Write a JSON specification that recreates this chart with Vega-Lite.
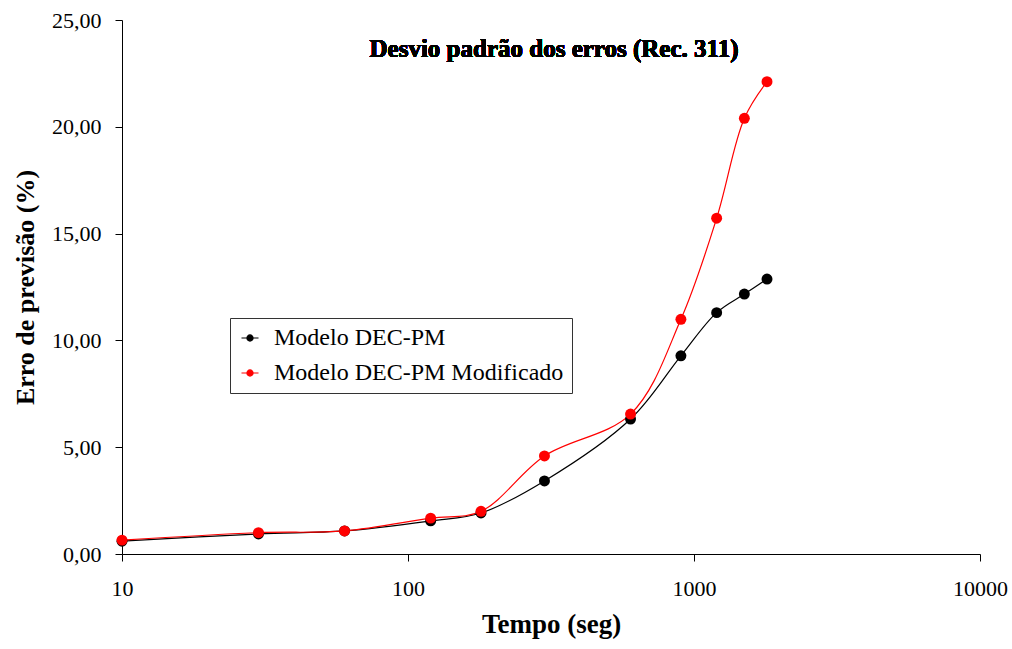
{
  "$schema": "https://vega.github.io/schema/vega-lite/v6.json",
  "width": 858,
  "height": 534,
  "autosize": "none",
  "padding": {"left": 122, "top": 20, "right": 32, "bottom": 95},
  "background": "white",
  "config": {
    "font": "Liberation Serif",
    "view": {"stroke": null},
    "axis": {
      "grid": false,
      "domainColor": "black",
      "tickColor": "black",
      "labelColor": "black",
      "titleColor": "black",
      "labelFont": "Liberation Serif",
      "titleFont": "Liberation Serif",
      "labelFontSize": 22,
      "titleFontSize": 26,
      "titleFontWeight": "bold",
      "tickSize": 7,
      "labelFlush": false
    },
    "legend": {
      "labelFont": "Liberation Serif",
      "labelFontSize": 24,
      "labelColor": "black",
      "labelLimit": 0
    }
  },
  "data": {
    "values": [
      {"tempo": 10, "erro": 0.60, "modelo": "Modelo DEC-PM"},
      {"tempo": 30, "erro": 0.94, "modelo": "Modelo DEC-PM"},
      {"tempo": 60, "erro": 1.08, "modelo": "Modelo DEC-PM"},
      {"tempo": 120, "erro": 1.55, "modelo": "Modelo DEC-PM"},
      {"tempo": 180, "erro": 1.92, "modelo": "Modelo DEC-PM"},
      {"tempo": 300, "erro": 3.42, "modelo": "Modelo DEC-PM"},
      {"tempo": 600, "erro": 6.32, "modelo": "Modelo DEC-PM"},
      {"tempo": 900, "erro": 9.28, "modelo": "Modelo DEC-PM"},
      {"tempo": 1200, "erro": 11.30, "modelo": "Modelo DEC-PM"},
      {"tempo": 1500, "erro": 12.17, "modelo": "Modelo DEC-PM"},
      {"tempo": 1800, "erro": 12.87, "modelo": "Modelo DEC-PM"},
      {"tempo": 10, "erro": 0.65, "modelo": "Modelo DEC-PM Modificado"},
      {"tempo": 30, "erro": 1.00, "modelo": "Modelo DEC-PM Modificado"},
      {"tempo": 60, "erro": 1.08, "modelo": "Modelo DEC-PM Modificado"},
      {"tempo": 120, "erro": 1.68, "modelo": "Modelo DEC-PM Modificado"},
      {"tempo": 180, "erro": 2.00, "modelo": "Modelo DEC-PM Modificado"},
      {"tempo": 300, "erro": 4.59, "modelo": "Modelo DEC-PM Modificado"},
      {"tempo": 600, "erro": 6.55, "modelo": "Modelo DEC-PM Modificado"},
      {"tempo": 900, "erro": 10.99, "modelo": "Modelo DEC-PM Modificado"},
      {"tempo": 1200, "erro": 15.72, "modelo": "Modelo DEC-PM Modificado"},
      {"tempo": 1500, "erro": 20.40, "modelo": "Modelo DEC-PM Modificado"},
      {"tempo": 1800, "erro": 22.11, "modelo": "Modelo DEC-PM Modificado"}
    ]
  },
  "layer": [
    {
      "mark": {"type": "line", "interpolate": "catmull-rom", "strokeWidth": 1.2, "point": {"size": 120, "filled": true, "opacity": 1}},
      "encoding": {
        "x": {
          "field": "tempo", "type": "quantitative",
          "scale": {"type": "log", "domain": [10, 10000], "nice": false},
          "axis": {"values": [10, 100, 1000, 10000], "format": "d", "title": "Tempo (seg)", "labelPadding": 17, "titlePadding": 12, "labelFlush": false, "labelOverlap": false, "titleFontSize": 27}
        },
        "y": {
          "field": "erro", "type": "quantitative",
          "scale": {"domain": [0, 25], "nice": false},
          "axis": {"values": [0, 5, 10, 15, 20, 25], "labelExpr": "replace(format(datum.value, '.2f'), '.', ',')", "title": "Erro de previsão (%)", "labelPadding": 14, "titlePadding": 13, "labelFlush": false}
        },
        "color": {
          "field": "modelo", "type": "nominal",
          "scale": {"domain": ["Modelo DEC-PM", "Modelo DEC-PM Modificado"], "range": ["#000000", "#ff0000"]},
          "legend": {
            "title": null,
            "orient": "none",
            "legendX": 108,
            "legendY": 298,
            "strokeColor": "#333333",
            "fillColor": "white",
            "padding": 8,
            "symbolType": "M -1 0 L 1 0 M 0.36 0 A 0.36 0.36 0 1 1 -0.36 0 A 0.36 0.36 0 1 1 0.36 0 Z",
            "symbolSize": 290,
            "symbolStrokeWidth": 1.2,
            "symbolOpacity": 1,
            "rowPadding": 11,
            "labelOffset": 12
          }
        }
      }
    },
    {
      "mark": {"type": "text", "font": "Liberation Serif", "fontSize": 25, "fontWeight": "bold", "color": "black"},
      "encoding": {
        "x": {"datum": 324, "type": "quantitative"},
        "y": {"datum": 23.65, "type": "quantitative"},
        "text": {"value": "Desvio padrão dos erros (Rec. 311)"}
      }
    }
  ]
}
